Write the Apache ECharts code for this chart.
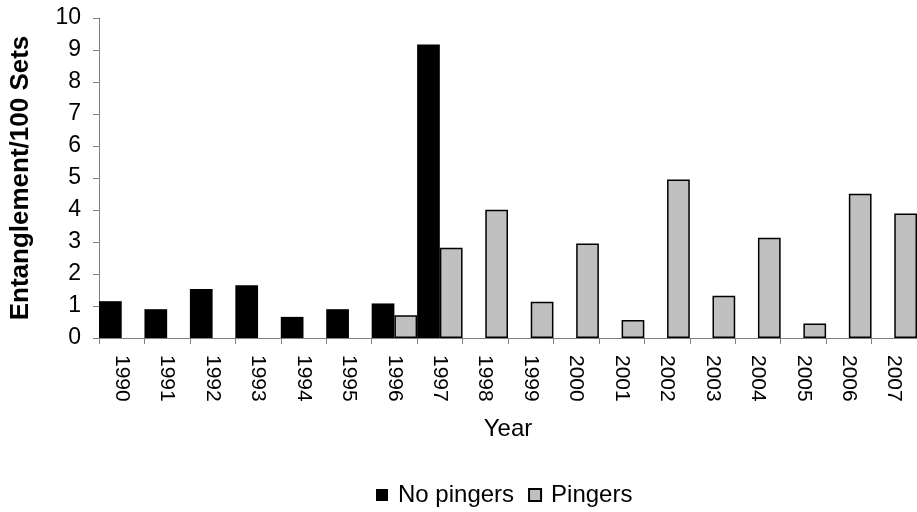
<!DOCTYPE html>
<html>
<head>
<meta charset="utf-8">
<script src="https://cdn.jsdelivr.net/npm/echarts@6/dist/echarts.min.js"></script>
<style>
  html, body { margin: 0; padding: 0; background: #fff; }
  #chart { width: 917px; height: 512px; }
</style>
</head>
<body>
<div id="chart"></div>
<script>
// categories and values
const years = ['1990', '1991', '1992', '1993', '1994', '1995', '1996', '1997', '1998',
  '1999', '2000', '2001', '2002', '2003', '2004', '2005', '2006', '2007']
const noPingers = [1.15, 0.9, 1.53, 1.65, 0.66, 0.9, 1.08, 9.17,
  null, null, null, null, null, null, null, null, null, null]
const pingers = [null, null, null, null, null, null, 0.71, 2.82, 4.01,
  1.13, 2.95, 0.56, 4.95, 1.32, 3.13, 0.45, 4.51, 3.89]
const yTicks = { min: 0, max: 10, interval: 1 }

const font = 'Arial, "Liberation Sans", sans-serif'
const chart = echarts.init(document.getElementById('chart'))
chart.setOption({
  backgroundColor: '#fff',
  animation: false,
  textStyle: { fontFamily: font, color: '#000' },
  // plot runs a little past the right edge, as in the reference
  grid: { left: 98, top: 18, width: 823, height: 320 },
  legend: {
    left: 376, top: 483, padding: 0, icon: 'rect', itemWidth: 12, itemHeight: 12, itemGap: 14,
    textStyle: { fontSize: 24, fontFamily: font, color: '#000', padding: [0, 0, 0, 5] },
    data: ['No pingers', 'Pingers'],
  },
  xAxis: {
    type: 'category', data: years, boundaryGap: true,
    name: 'Year', nameLocation: 'middle', nameGap: 79,
    nameTextStyle: { fontSize: 24, fontFamily: font, color: '#000' },
    axisLine: { lineStyle: { color: '#808080', width: 1 } },
    axisTick: { show: true, length: 6, lineStyle: { color: '#808080' } },
    axisLabel: { rotate: -90, fontSize: 21, fontFamily: font, color: '#000', margin: 17 },
  },
  yAxis: {
    type: 'value', ...yTicks,
    name: 'Entanglement/100 Sets', nameLocation: 'middle', nameGap: 65,
    nameTextStyle: { fontSize: 26, fontWeight: 'bold', fontFamily: font, color: '#000' },
    axisLine: { show: true, lineStyle: { color: '#808080', width: 1 } },
    axisTick: { show: true, length: 6, lineStyle: { color: '#808080' } },
    axisLabel: { fontSize: 23, fontFamily: font, color: '#000', margin: 18 },
    splitLine: { show: false },
  },
  series: [
    { name: 'No pingers', type: 'bar', data: noPingers, barGap: '0%', barCategoryGap: '0%',
      itemStyle: { color: '#000' } },
    { name: 'Pingers', type: 'bar', data: pingers, barGap: '0%', barCategoryGap: '0%',
      itemStyle: { color: '#c0c0c0', borderColor: '#000', borderWidth: 1.5 } },
  ],
})
</script>
</body>
</html>
